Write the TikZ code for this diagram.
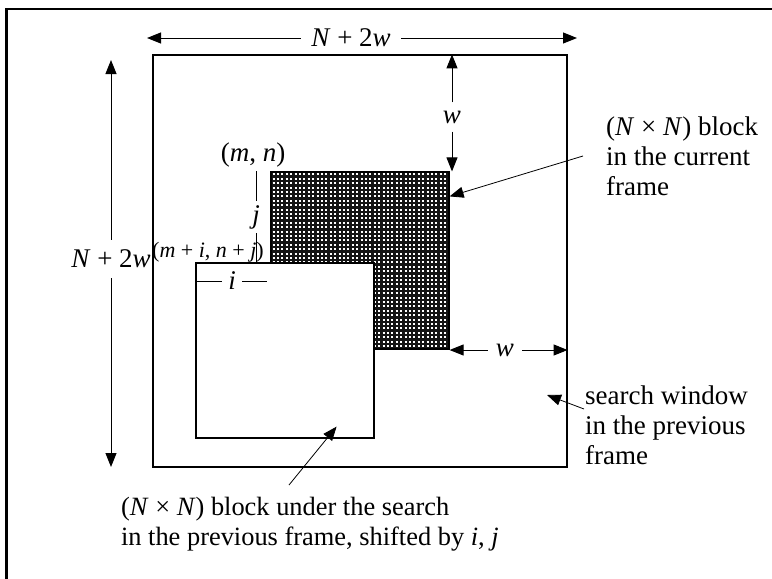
\documentclass[tikz,border=0pt]{standalone}
\usepackage{fontspec}
\setmainfont{Liberation Serif}
\usetikzlibrary{arrows.meta}
\definecolor{blockdark}{HTML}{141414}

\begin{document}
\begin{tikzpicture}[x=0.5pt, y=-0.5pt,
  every node/.style={font=\fontsize{13.5}{15}\selectfont},
  dim/.style={-{Triangle[length=7pt,width=5.5pt]}, line width=0.5pt},
  pointer/.style={-{Triangle[length=7pt,width=5.5pt]}, line width=0.4pt},
  tick/.style={line width=0.5pt},
  frame/.style={draw, line width=0.6pt, inner sep=0pt}]
  \useasboundingbox (0,0) rectangle (772,579);

  % page edge
  \draw[line width=1.2pt] (6.5,579) -- (6.5,9) -- (772,9);

  % search window and the two blocks
  \node[frame, minimum width=207pt, minimum height=206pt] (window) at (360,261) {};
  \node[frame, fill=blockdark, minimum width=89pt, minimum height=88.5pt] (current) at (360,260.5) {};
  \foreach \y in {174.4,178.8,...,347}
    \draw[white, line width=1pt, dash pattern=on 1pt off 1.2pt] (272.5,\y) -- (448,\y);
  \node[frame, fill=white, minimum width=89pt, minimum height=87.5pt] (shifted) at (285,350.5) {};

  % N + 2w across the top
  \node[inner sep=5pt] (toplab) at (351,38) {\textit{N} + 2\textit{w}};
  \coordinate (topL) at (147,38);
  \coordinate (topR) at (577,38);
  \draw[dim] (toplab) -- (topL);
  \draw[dim] (toplab) -- (topR);

  % N + 2w down the side
  \node[inner sep=5pt] (sidelab) at (111,259) {\textit{N} + 2\textit{w}};
  \coordinate (sideT) at (111,60);
  \coordinate (sideB) at (111,467);
  \draw[dim] (sidelab) -- (sideT);
  \draw[dim] (sidelab) -- (sideB);

  % w above the block
  \node[inner sep=4pt] (wv) at (452,117) {\textit{w}};
  \draw[dim] (wv) -- (wv |- window.north);
  \draw[dim] (wv) -- (wv |- current.north);

  % w right of the block
  \node[inner sep=4pt] (wh) at (505,350) {\textit{w}};
  \draw[dim] (wh) -- (current.east |- wh);
  \draw[dim] (wh) -- (window.east |- wh);

  % shifts i and j
  \node (mn) at (253,155) {(\textit{m}, \textit{n})};
  \node[font=\fontsize{11}{13}\selectfont, inner sep=1pt] (mij) at (208,252) {(\textit{m} + \textit{i}, \textit{n} + \textit{j})};
  \node[inner sep=2pt] (jlab) at (256,217) {\textit{j}};
  \draw[tick] (jlab |- current.north) -- (jlab);
  \draw[tick] (jlab) -- (jlab |- shifted.north);
  \node[inner sep=3pt] (ilab) at (232,281) {\textit{i}};
  \coordinate (iend) at (267,281);
  \draw[tick] (shifted.west |- ilab) -- (ilab);
  \draw[tick] (ilab) -- (iend);

  % callouts
  \node[align=left, anchor=west] (curlab) at (599,156) {(\textit{N} × \textit{N}) block\\in the current\\frame};
  \draw[pointer] ([xshift=-8pt]curlab.west) -- ([yshift=-12.5pt]current.north east);

  \node[align=left, anchor=west] (winlab) at (578,425) {search window\\in the previous\\frame};
  \coordinate (wintip) at (547,395);
  \draw[pointer] ([xshift=3pt,yshift=8pt]winlab.west) -- (wintip);

  \node[align=left, anchor=west, font=\fontsize{13.2}{15}\selectfont] (botlab) at (114,524) {(\textit{N} × \textit{N}) block under the search\\in the previous frame, shifted by \textit{i}, \textit{j}};
  \coordinate (botfoot) at (289,485);
  \draw[pointer] (botfoot) -- ([xshift=-19pt,yshift=6pt]shifted.south east);
\end{tikzpicture}
\end{document}
